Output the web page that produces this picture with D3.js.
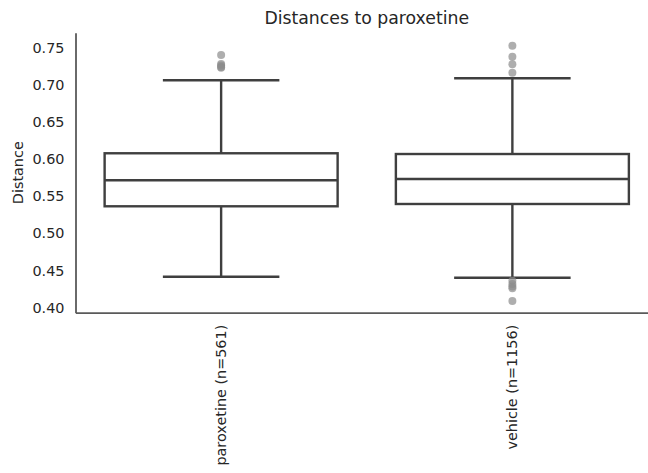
<!DOCTYPE html>
<html>
<head>
<meta charset="utf-8">
<script src="https://cdn.jsdelivr.net/npm/d3@7"></script>
<style>
  body { margin: 0; background: #fff; }
  svg { display: block; font-family: "DejaVu Sans", sans-serif; }
</style>
</head>
<body>
<svg id="chart" width="648" height="473"></svg>
<script>
var categories = ["paroxetine (n=561)", "vehicle (n=1156)"];
var q1 = [0.5365, 0.5396];
var median = [0.5716, 0.5733];
var q3 = [0.608, 0.607];
var whiskerLow = [0.4415, 0.4402];
var whiskerHigh = [0.7064, 0.7091];
var outliers = [
    [0.7406, 0.7285, 0.7265, 0.7245, 0.7234],
    [0.7531, 0.7383, 0.728, 0.7167, 0.4361, 0.4317, 0.4283, 0.4259, 0.4088]
];
var yTicks = [0.40, 0.45, 0.50, 0.55, 0.60, 0.65, 0.70, 0.75];

var margin = {top: 32.7, left: 75.5, bottom: 160.3},
    width = 658 - margin.left,
    height = 473 - margin.top - margin.bottom;

var lineColor = "#3f3f3f",
    spineColor = "#5a5a5a",
    textColor = "#262626",
    font = "'DejaVu Sans', sans-serif";

var svg = d3.select("#chart")
    .append("g")
    .attr("transform", "translate(" + margin.left + "," + margin.top + ")");

var xScale = d3.scaleBand()
    .domain(categories)
    .range([0, width])
    .paddingInner(0)
    .paddingOuter(0);

var yScale = d3.scaleLinear()
    .domain([0.393, 0.7706])
    .range([height, 0]);

var boxW = xScale.bandwidth() * 0.8,
    capW = xScale.bandwidth() * 0.4;

// y axis, no tick marks
var yAxis = svg.append("g")
    .call(d3.axisLeft(yScale).tickValues(yTicks).tickSize(0).tickPadding(11)
        .tickFormat(d3.format(".2f")))
    .attr("font-family", font)
    .attr("font-size", 14.4);
yAxis.select(".domain").attr("stroke", spineColor).attr("stroke-width", 1.8);
yAxis.selectAll("text").attr("fill", textColor);

// x axis
var xAxis = svg.append("g")
    .attr("transform", "translate(0," + height + ")")
    .call(d3.axisBottom(xScale).tickSize(0).tickPadding(0))
    .attr("font-family", font)
    .attr("font-size", 14.4);
xAxis.select(".domain").attr("stroke", spineColor).attr("stroke-width", 1.8);
xAxis.selectAll("text")
    .attr("fill", textColor)
    .attr("dy", null)
    .attr("y", 0)
    .attr("transform", "translate(0,12) rotate(-90)")
    .attr("text-anchor", "end")
    .attr("dominant-baseline", "central");

var boxes = svg.selectAll(".box")
    .data(categories)
    .enter().append("g")
    .attr("class", "box")
    .attr("transform", function(d) {
        return "translate(" + (xScale(d) + xScale.bandwidth() / 2) + ",0)";
    });

// whiskers
boxes.append("line")
    .attr("y1", function(d, i) { return yScale(q3[i]); })
    .attr("y2", function(d, i) { return yScale(whiskerHigh[i]); });
boxes.append("line")
    .attr("y1", function(d, i) { return yScale(q1[i]); })
    .attr("y2", function(d, i) { return yScale(whiskerLow[i]); });

// caps
boxes.append("line")
    .attr("x1", -capW / 2).attr("x2", capW / 2)
    .attr("y1", function(d, i) { return yScale(whiskerHigh[i]); })
    .attr("y2", function(d, i) { return yScale(whiskerHigh[i]); });
boxes.append("line")
    .attr("x1", -capW / 2).attr("x2", capW / 2)
    .attr("y1", function(d, i) { return yScale(whiskerLow[i]); })
    .attr("y2", function(d, i) { return yScale(whiskerLow[i]); });

// box
boxes.append("rect")
    .attr("x", -boxW / 2)
    .attr("width", boxW)
    .attr("y", function(d, i) { return yScale(q3[i]); })
    .attr("height", function(d, i) { return yScale(q1[i]) - yScale(q3[i]); })
    .attr("fill", "#fff");

// median
boxes.append("line")
    .attr("x1", -boxW / 2).attr("x2", boxW / 2)
    .attr("y1", function(d, i) { return yScale(median[i]); })
    .attr("y2", function(d, i) { return yScale(median[i]); });

boxes.selectAll("line, rect")
    .attr("stroke", lineColor)
    .attr("stroke-width", 2.4);

// fliers
boxes.selectAll(".flier")
    .data(function(d, i) { return outliers[i]; })
    .enter().append("circle")
    .attr("class", "flier")
    .attr("cy", function(v) { return yScale(v); })
    .attr("r", 4)
    .attr("fill", "#8c8c8c")
    .attr("fill-opacity", 0.7);

// labels
d3.select("#chart").append("text")
    .attr("x", margin.left + width / 2)
    .attr("y", 24)
    .attr("text-anchor", "middle")
    .attr("fill", textColor)
    .style("font-size", "17.3px")
    .text("Distances to paroxetine");

d3.select("#chart").append("text")
    .attr("transform", "translate(18," + (margin.top + height / 2) + ") rotate(-90)")
    .attr("text-anchor", "middle")
    .attr("dominant-baseline", "central")
    .attr("fill", textColor)
    .style("font-size", "14.4px")
    .text("Distance");
</script>
</body>
</html>
